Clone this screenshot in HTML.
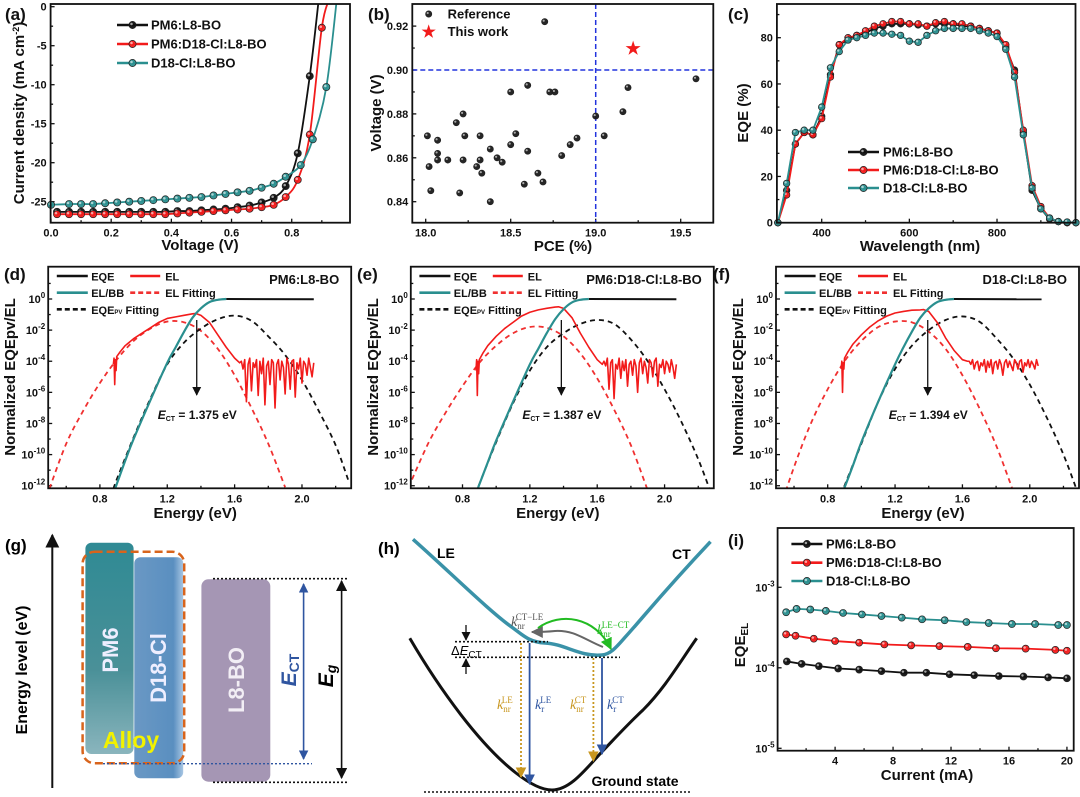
<!DOCTYPE html>
<html><head><meta charset="utf-8"><title>Figure</title>
<style>
html,body{margin:0;padding:0;background:#fff;}
svg{display:block;font-family:"Liberation Sans",Arial,sans-serif;font-weight:bold;}
</style></head>
<body>
<svg id="fig" width="1080" height="797" viewBox="0 0 1080 797" xmlns="http://www.w3.org/2000/svg">
<defs>
<linearGradient id="gPM6" x1="0" y1="0" x2="0" y2="1"><stop offset="0" stop-color="#2f8a94"/><stop offset="0.6" stop-color="#4a9098"/><stop offset="1" stop-color="#8ab5bd"/></linearGradient>
<linearGradient id="gD18" x1="0" y1="0" x2="1" y2="0"><stop offset="0" stop-color="#6a98c4"/><stop offset="0.8" stop-color="#5a8fc0"/><stop offset="1" stop-color="#a8c6e3"/></linearGradient>
<clipPath id="clipA"><rect x="50.6" y="4" width="299.4" height="218.7"/></clipPath>
<clipPath id="clipC"><rect x="776.9" y="4" width="298.6" height="218.7"/></clipPath>
<clipPath id="clipD"><rect x="48.2" y="266.7" width="303" height="221.6"/></clipPath>
<clipPath id="clipE"><rect x="410.8" y="266.7" width="303" height="221.6"/></clipPath>
<clipPath id="clipF"><rect x="776" y="266.7" width="303" height="221.6"/></clipPath>
<marker id="arrK" viewBox="0 0 10 10" refX="9" refY="5" markerWidth="7" markerHeight="7" orient="auto-start-reverse"><path d="M0,0 L10,5 L0,10 z" fill="#111"/></marker>
<marker id="arrB" viewBox="0 0 10 10" refX="9" refY="5" markerWidth="6" markerHeight="6" orient="auto-start-reverse"><path d="M0,0 L10,5 L0,10 z" fill="#2f55a0"/></marker>
<marker id="arrY" viewBox="0 0 10 10" refX="9" refY="5" markerWidth="6" markerHeight="6" orient="auto-start-reverse"><path d="M0,0 L10,5 L0,10 z" fill="#c8961e"/></marker>
<marker id="arrG" viewBox="0 0 10 10" refX="9" refY="5" markerWidth="6" markerHeight="6" orient="auto"><path d="M0,0 L10,5 L0,10 z" fill="#22bb22"/></marker>
<marker id="arrGr" viewBox="0 0 10 10" refX="9" refY="5" markerWidth="6" markerHeight="6" orient="auto-start-reverse"><path d="M0,0 L10,5 L0,10 z" fill="#666"/></marker>
</defs>

<g>
<text x="5" y="551" font-size="17">(g)</text>
<line x1="52.3" y1="788" x2="52.3" y2="535" stroke="#111" stroke-width="2" marker-end="url(#arrK)"/>
<text transform="translate(27,670) rotate(-90)" text-anchor="middle" font-size="16">Energy level (eV)</text>
<rect x="85.4" y="542.7" width="48.2" height="211.3" rx="6" fill="url(#gPM6)"/>
<rect x="134.3" y="557.3" width="48.9" height="221" rx="6" fill="url(#gD18)"/>
<rect x="82.6" y="551.7" width="101.6" height="211.6" rx="12" fill="none" stroke="#d8641c" stroke-width="2.5" stroke-dasharray="8,4"/>
<rect x="201.4" y="579.3" width="68.9" height="202.4" rx="7" fill="#a596b4"/>
<text transform="translate(118,650) rotate(-90)" text-anchor="middle" font-size="22" fill="#eef">PM6</text>
<text transform="translate(166,668) rotate(-90)" text-anchor="middle" font-size="22" fill="#eef">D18-Cl</text>
<text transform="translate(244,680) rotate(-90)" text-anchor="middle" font-size="22" fill="#f2eef5">L8-BO</text>
<text x="131" y="748" text-anchor="middle" font-size="23" fill="#f2f200">Alloy</text>
<line x1="213" y1="578.7" x2="347" y2="578.7" stroke="#111" stroke-width="1.6" stroke-dasharray="2,2"/>
<line x1="213" y1="782.3" x2="347" y2="782.3" stroke="#111" stroke-width="1.6" stroke-dasharray="2,2"/>
<line x1="103" y1="763.7" x2="312" y2="763.7" stroke="#2f55a0" stroke-width="1.4" stroke-dasharray="2,2"/>
<line x1="303.6" y1="584" x2="303.6" y2="759" stroke="#2f55a0" stroke-width="1.6" marker-start="url(#arrB)" marker-end="url(#arrB)"/>
<text transform="translate(296,670) rotate(-90)" text-anchor="middle" font-size="21" font-style="italic" fill="#2f55a0">E<tspan font-style="normal" font-size="14" dy="3">CT</tspan></text>
<line x1="341.6" y1="581" x2="341.6" y2="778" stroke="#111" stroke-width="1.6" marker-start="url(#arrK)" marker-end="url(#arrK)"/>
<text transform="translate(333,676) rotate(-90)" text-anchor="middle" font-size="21" font-style="italic">E<tspan font-size="14" dy="3">g</tspan></text>
</g>

<g>
<text x="378" y="554" font-size="17">(h)</text>
<path d="M413,539.3 C450,572 490,612 513,628 C525,637 530,642 545,643 C565,644 580,657 602,655 C612,654 618,645 628,634 C645,615 665,590 710.5,541.7" fill="none" stroke="#3a92a8" stroke-width="3.5"/>
<path d="M409.8,638.3 C440,690 480,745 516,773 C530,784 542,790 552,790 C570,790 585,770 602,751.7 C618,735 630,722 643,710 C665,688 680,662 696.7,638.3" fill="none" stroke="#111" stroke-width="3"/>
<line x1="424" y1="792" x2="690" y2="792" stroke="#111" stroke-width="1.6" stroke-dasharray="2,2"/>
<line x1="455" y1="641.7" x2="548" y2="641.7" stroke="#111" stroke-width="1.6" stroke-dasharray="2,2"/>
<line x1="455" y1="657.3" x2="620" y2="657.3" stroke="#111" stroke-width="1.6" stroke-dasharray="2,2"/>
<line x1="466" y1="625" x2="466" y2="640" stroke="#111" stroke-width="1.3" marker-end="url(#arrK)"/>
<line x1="466" y1="674" x2="466" y2="659" stroke="#111" stroke-width="1.3" marker-end="url(#arrK)"/>
<text x="451" y="655" font-size="13" font-weight="normal">Δ<tspan font-style="italic">E</tspan><tspan font-size="10" dy="3">CT</tspan></text>
<path d="M603,647 C585,640 575,630 555,631 C545,632 540,632 532,632" fill="none" stroke="#666" stroke-width="2" marker-end="url(#arrGr)"/>
<path d="M538,628 C560,612 595,616 611,649" fill="none" stroke="#22bb22" stroke-width="2" marker-end="url(#arrG)"/>
<text x="511" y="626" font-family="Liberation Serif,serif" font-weight="normal" font-size="14" fill="#555"><tspan font-style="italic">k</tspan><tspan font-size="9" dy="3">nr</tspan><tspan font-size="9" dy="-9" dx="-9">CT−LE</tspan></text>
<text x="597" y="634" font-family="Liberation Serif,serif" font-weight="normal" font-size="14" fill="#22bb22"><tspan font-style="italic">k</tspan><tspan font-size="9" dy="3">nr</tspan><tspan font-size="9" dy="-9" dx="-9">LE−CT</tspan></text>
<line x1="521" y1="643" x2="521" y2="777" stroke="#c8961e" stroke-width="1.8" stroke-dasharray="2,2" marker-end="url(#arrY)"/>
<line x1="529.6" y1="643" x2="529.6" y2="784" stroke="#2f55a0" stroke-width="1.8" marker-end="url(#arrB)"/>
<line x1="593.4" y1="658" x2="593.4" y2="761" stroke="#c8961e" stroke-width="1.8" stroke-dasharray="2,2" marker-end="url(#arrY)"/>
<line x1="602" y1="658" x2="602" y2="754" stroke="#2f55a0" stroke-width="1.8" marker-end="url(#arrB)"/>
<text x="497" y="709" font-family="Liberation Serif,serif" font-weight="normal" font-size="14" fill="#c8961e"><tspan font-style="italic">k</tspan><tspan font-size="9" dy="3">nr</tspan><tspan font-size="9" dy="-9" dx="-9">LE</tspan></text>
<text x="535" y="709" font-family="Liberation Serif,serif" font-weight="normal" font-size="14" fill="#2f55a0"><tspan font-style="italic">k</tspan><tspan font-size="9" dy="3">r</tspan><tspan font-size="9" dy="-9" dx="-4">LE</tspan></text>
<text x="570" y="709" font-family="Liberation Serif,serif" font-weight="normal" font-size="14" fill="#c8961e"><tspan font-style="italic">k</tspan><tspan font-size="9" dy="3">nr</tspan><tspan font-size="9" dy="-9" dx="-9">CT</tspan></text>
<text x="607" y="709" font-family="Liberation Serif,serif" font-weight="normal" font-size="14" fill="#2f55a0"><tspan font-style="italic">k</tspan><tspan font-size="9" dy="3">r</tspan><tspan font-size="9" dy="-9" dx="-4">CT</tspan></text>
<text x="437" y="558" font-size="14">LE</text>
<text x="672" y="559" font-size="14">CT</text>
<text x="635" y="786" text-anchor="middle" font-size="14">Ground state</text>
</g>

<script>
// Panel a: J-V
const aVolt = [0.02,0.06,0.10,0.14,0.18,0.22,0.26,0.30,0.34,0.38,0.42,0.46,0.50,0.54,0.58,0.62,0.66,0.70,0.74,0.78];
const aBlackV = aVolt.concat([0.82,0.86,0.89]);
const aBlackJ = [-26.3,-26.3,-26.3,-26.3,-26.3,-26.3,-26.3,-26.3,-26.3,-26.3,-26.2,-26.2,-26.1,-26.0,-25.9,-25.7,-25.5,-25.1,-24.5,-23.0,-18.8,-8.9,1];
const aRedV = aVolt.concat([0.82,0.86,0.90,0.925]);
const aRedJ = [-26.6,-26.6,-26.6,-26.6,-26.6,-26.6,-26.6,-26.6,-26.6,-26.6,-26.5,-26.4,-26.3,-26.2,-26.1,-26.0,-25.9,-25.7,-25.4,-24.4,-22.2,-16.4,-2.7,1];
const aTealV = [0.0].concat(aVolt.slice(1)).concat([0.83,0.87,0.915,0.95]);
const aTealJ = [-25.4,-25.3,-25.3,-25.3,-25.2,-25.1,-25.0,-24.9,-24.8,-24.7,-24.6,-24.5,-24.4,-24.2,-24.0,-23.8,-23.6,-23.2,-22.7,-21.8,-20.3,-17.0,-10.3,1];
const aXTicks = [0.0,0.2,0.4,0.6,0.8];
const aYTicks = [0,-5,-10,-15,-20,-25];

// Panel b
const bRefPCE = [18.01,18.07,18.18,18.22,18.23,18.32,18.38,18.02,18.03,18.07,18.07,18.13,18.20,18.22,18.30,18.32,18.33,18.38,18.42,18.45,18.50,18.60,18.53,18.50,18.58,18.60,18.66,18.69,18.70,18.73,18.76,18.80,18.85,18.89,19.00,19.05,19.16,19.19,19.59];
const bRefVoc = [0.870,0.868,0.876,0.880,0.870,0.870,0.864,0.856,0.845,0.862,0.859,0.859,0.844,0.859,0.856,0.859,0.853,0.840,0.860,0.858,0.890,0.893,0.871,0.866,0.848,0.863,0.853,0.849,0.922,0.890,0.890,0.861,0.866,0.869,0.879,0.870,0.881,0.892,0.896];
const bThisPCE = [19.22];
const bThisVoc = [0.910];
const bXTicks = [18.0,18.5,19.0,19.5];
const bYTicks = [0.84,0.86,0.88,0.90,0.92];

// Panel c
const cWave = [300,320,340,360,380,400,420,440,460,480,500,520,540,560,580,600,620,640,660,680,700,720,740,760,780,800,820,840,860,880,900,920,940,960,980];
const cBlack = [0,14,34,39,38,46,64,77,79,81,82,84,85,86,86,86,85.5,85,86,86,86,85,85,84,83,82,76,66,39,14,6,1.5,0.5,0,0];
const cRed = [0,12,34,39,38,45,63,77,80,81,83,85,86,87,87,86,86,85,86.5,87,86,86,85,84,83,82,77,65,40,16,7,2,0.5,0,0];
const cTeal = [0,17,39,40,40,50,67,74,79,80,81,82,82,81.5,81,78.5,78,81,83,84,84,84,84,83,82,80.5,75,63,38,15,6,2,0.5,0.3,0];
const cXTicks = [400,600,800];
const cYTicks = [0,20,40,60,80];

// Panels d-f (log10 values)
const fitElE = [0.50,0.60,0.70,0.80,0.90,1.00,1.10,1.20,1.30,1.40,1.50,1.60,1.70,1.80,1.90];
const dFitEl = [-12.2,-9.3,-7.2,-5.4,-3.9,-2.7,-1.9,-1.45,-1.5,-2.05,-3.2,-4.9,-7.0,-9.3,-12.1];
const eFitEl = [-11.6,-9.2,-7.3,-5.6,-4.1,-3.0,-2.2,-1.8,-1.85,-2.4,-3.5,-5.1,-7.1,-9.4,-12.3];
const fFitEl = [-14.0,-10.8,-8.0,-5.8,-4.0,-2.7,-1.8,-1.45,-1.5,-2.1,-3.2,-4.9,-7.0,-9.4,-12.3];
const pvE = [0.88,0.90,1.00,1.10,1.20,1.30,1.40,1.50,1.60,1.70,1.80,1.90,2.00,2.10,2.20,2.28];
const dPv = [-12.2,-11.6,-8.9,-6.4,-4.2,-2.8,-1.9,-1.3,-1.07,-1.4,-2.4,-3.6,-5.2,-7.2,-9.4,-11.8];
const ePv = [-12.6,-11.9,-9.2,-6.7,-4.6,-3.1,-2.2,-1.6,-1.35,-1.6,-2.6,-4.0,-5.8,-7.9,-10.3,-12.6];
const fPv = [-12.6,-12.0,-9.3,-6.6,-4.5,-3.0,-2.0,-1.35,-1.12,-1.45,-2.5,-3.8,-5.5,-7.6,-10.0,-12.3];
const bbE = [0.89,0.95,1.00,1.10,1.20,1.25,1.30,1.35,1.40,1.45,1.50,1.55];
const dBB = [-12.2,-10.4,-9.0,-6.5,-4.1,-3.1,-2.1,-1.2,-0.6,-0.2,-0.05,0];
const eBB = [-12.2,-10.5,-9.1,-6.6,-4.2,-3.2,-2.2,-1.3,-0.65,-0.22,-0.05,0];
const fBB = [-12.4,-10.7,-9.2,-6.6,-4.2,-3.1,-2.1,-1.2,-0.6,-0.2,-0.05,0];
const eqeE = [1.55,2.07];
const dEqe = [0,-0.02];
const elE = [0.880,0.884,0.888,0.892,0.896,0.900,0.920,0.950,1.00,1.05,1.10,1.15,1.20,1.25,1.30,1.35,1.37,1.40,1.45,1.50,1.55,1.60,1.63];
const dEl = [-4.2,-3.8,-5.5,-3.9,-4.6,-3.7,-3.4,-3.0,-2.55,-2.2,-1.85,-1.5,-1.25,-1.15,-1.05,-0.95,-0.93,-1.05,-1.5,-2.3,-3.1,-3.8,-4.1];
const eEl = [-4.6,-3.9,-6.2,-4.0,-4.8,-3.9,-3.5,-3.0,-2.4,-1.9,-1.5,-1.1,-0.85,-0.7,-0.6,-0.52,-0.5,-0.6,-1.2,-2.2,-3.1,-3.9,-4.2];
const fEl = [-4.5,-4.0,-6.0,-4.1,-4.5,-3.8,-3.4,-2.9,-2.3,-1.8,-1.4,-1.1,-0.9,-0.8,-0.72,-0.7,-0.68,-0.8,-1.5,-2.5,-3.3,-3.9,-4.0];
const noiseStart = 1.64, noiseStep = 0.01;
const dNoise = [-4.0,-4.5,-3.9,-6.6,-4.2,-3.8,-5.9,-4.1,-4.4,-3.9,-6.2,-4.0,-4.8,-3.8,-6.8,-4.3,-4.0,-5.5,-3.9,-4.1,-7.0,-4.2,-3.9,-5.2,-4.0,-4.4,-6.1,-3.8,-4.2,-5.8,-4.0,-3.9,-6.3,-4.1,-4.5,-3.8,-5.4,-4.0,-4.2,-4.9,-3.8,-4.4,-5.0,-4.1];
const eNoise = [-4.0,-4.3,-3.8,-5.8,-4.1,-3.9,-6.4,-4.2,-4.5,-3.8,-5.1,-4.0,-4.6,-3.9,-5.6,-4.2,-4.0,-4.9,-3.9,-4.3,-6.0,-4.1,-3.8,-4.8,-4.0,-4.4,-5.4,-3.9,-4.1,-5.0,-4.0,-3.8,-5.6,-4.2,-4.4,-3.9,-4.8,-4.0,-4.2,-4.7,-3.9,-4.4,-5.1,-4.2];
const fNoise = [-4.0,-4.2,-3.9,-4.5,-4.1,-4.0,-4.6,-4.1,-4.3,-3.9,-4.7,-4.0,-4.4,-3.9,-4.8,-4.1,-4.0,-4.5,-3.9,-4.2,-4.9,-4.1,-3.9,-4.4,-4.0,-4.3,-4.6,-3.9,-4.1,-4.5,-4.0,-3.9,-4.7,-4.1,-4.3,-3.9,-4.4,-4.0,-4.2,-4.5,-3.9,-4.3];
const energyXTicks = [0.8,1.2,1.6,2.0];
const energyYTicks = [0,-2,-4,-6,-8,-10,-12];
const ectValues = [1.375,1.387,1.394];

// Panel i
const iBlackX = [0.67,1.69,2.88,4.21,5.66,7.2,8.75,10.3,11.9,13.6,15.3,17.0,18.7,20.0];
const iBlackY = [1.2e-4,1.12e-4,1.05e-4,0.98e-4,0.95e-4,0.91e-4,0.87e-4,0.87e-4,0.83e-4,0.81e-4,0.79e-4,0.78e-4,0.76e-4,0.74e-4];
const iRedX = [0.62,1.27,2.53,4.0,5.66,7.4,9.25,11.2,13.15,15.1,17.15,19.2,20.0];
const iRedY = [2.6e-4,2.5e-4,2.3e-4,2.15e-4,2.05e-4,1.95e-4,1.9e-4,1.86e-4,1.82e-4,1.75e-4,1.73e-4,1.67e-4,1.63e-4];
const iTealX = [0.62,1.34,2.29,3.36,4.55,5.85,7.2,8.6,10.0,11.56,13.06,14.6,16.2,17.8,19.4,20.0];
const iTealY = [4.9e-4,5.4e-4,5.3e-4,5.1e-4,4.8e-4,4.6e-4,4.4e-4,4.2e-4,4.0e-4,3.9e-4,3.7e-4,3.6e-4,3.5e-4,3.5e-4,3.4e-4,3.4e-4];
const iXTicks = [4,8,12,16,20];
const iYTicks = [-3,-4,-5];

const NS = 'http://www.w3.org/2000/svg';
const svg = document.getElementById('fig');
const BLACK = '#111', RED = '#f21b1b', TEAL = '#2a8f8f';
function mk(tag, attrs, parent) {
  const e = document.createElementNS(NS, tag);
  for (const k in attrs) e.setAttribute(k, attrs[k]);
  (parent || svg).appendChild(e);
  return e;
}
// rich text: array of segments [text, attrs]
function setRich(t, segs) {
  segs.forEach(function (s) {
    const ts = document.createElementNS(NS, 'tspan');
    const at = s[1] || {};
    for (const k in at) ts.setAttribute(k, at[k]);
    ts.textContent = s[0];
    t.appendChild(ts);
  });
}
function group(name) {
  const g = mk('g', {});
  
  
  return g;
}
function label(parent, name, x, y, content, size, anchor, extra) {
  const t = mk('text', Object.assign({x: x, y: y, 'font-size': size || 11, 'text-anchor': anchor || 'start', fill: BLACK}, extra || {}), parent);
  if (typeof content === 'string') t.textContent = content; else setRich(t, content);
  
  
  return t;
}
function vlabel(parent, name, x, y, content, size) {
  const t = mk('text', {transform: 'translate(' + x + ',' + y + ') rotate(-90)', 'font-size': size || 15, 'text-anchor': 'middle', fill: BLACK}, parent);
  if (typeof content === 'string') t.textContent = content; else setRich(t, content);
  
  
  return t;
}
function pow10(L) { return [['10'], [String(L), {dy: '-5', 'font-size': '8'}]]; }
function frame(parent, name, x0, y0, x1, y1) {
  const r = mk('rect', {x: x0, y: y0, width: x1 - x0, height: y1 - y0, fill: 'none', stroke: BLACK, 'stroke-width': 1.8}, parent);
  
  
}
function tick(parent, name, x1, y1, x2, y2) {
  const l = mk('line', {x1: x1, y1: y1, x2: x2, y2: y2, stroke: BLACK, 'stroke-width': 1.3}, parent);
  
  
}
function linePath(parent, name, pts, color, width, dash, clip) {
  let d = '';
  pts.forEach((p, i) => { d += (i ? 'L' : 'M') + p[0].toFixed(2) + ',' + p[1].toFixed(2); });
  const a = {d: d, fill: 'none', stroke: color, 'stroke-width': width, 'stroke-linejoin': 'round'};
  if (dash) a['stroke-dasharray'] = dash;
  if (clip) a['clip-path'] = 'url(#' + clip + ')';
  const p = mk('path', a, parent);
  
  
  return p;
}
function smoothPath(parent, name, pts, color, width, dash, clip) {
  let d = 'M' + pts[0][0].toFixed(2) + ',' + pts[0][1].toFixed(2);
  for (let i = 0; i < pts.length - 1; i++) {
    const p0 = pts[i - 1] || pts[i], p1 = pts[i], p2 = pts[i + 1], p3 = pts[i + 2] || p2;
    const c1x = p1[0] + (p2[0] - p0[0]) / 6, c1y = p1[1] + (p2[1] - p0[1]) / 6;
    const c2x = p2[0] - (p3[0] - p1[0]) / 6, c2y = p2[1] - (p3[1] - p1[1]) / 6;
    d += 'C' + c1x.toFixed(2) + ',' + c1y.toFixed(2) + ' ' + c2x.toFixed(2) + ',' + c2y.toFixed(2) + ' ' + p2[0].toFixed(2) + ',' + p2[1].toFixed(2);
  }
  const a = {d: d, fill: 'none', stroke: color, 'stroke-width': width};
  if (dash) a['stroke-dasharray'] = dash;
  if (clip) a['clip-path'] = 'url(#' + clip + ')';
  const p = mk('path', a, parent);
  
  
  return p;
}
function marker(parent, name, x, y, color, r) {
  const c = mk('circle', {cx: x, cy: y, r: r || 3.6, fill: color, stroke: '#222', 'stroke-width': 0.7, 'fill-opacity': 0.95}, parent);
  
  
  const h = mk('circle', {cx: x - 1, cy: y - 1, r: (r || 3.6) * 0.35, fill: '#fff', 'fill-opacity': 0.6}, parent);
  
  
}
function legendLine(parent, name, x1, x2, y, color, dash, withMarker, text, tx, size) {
  const l = mk('line', {x1: x1, y1: y, x2: x2, y2: y, stroke: color, 'stroke-width': 2.6}, parent);
  if (dash) l.setAttribute('stroke-dasharray', dash);
  
  
  if (withMarker) marker(parent, name + '-marker', (x1 + x2) / 2, y, color, 3.6);
  label(parent, name + '-text', tx, y + 4.5, text, size || 13);
}

// Panel a
(function () {
  const g = group('panel-a');
  const xs = v => 51 + v * 300.9;
  const ys = j => 6.7 - j * 7.8;
  const X0 = 50.6, X1 = 350, Y0 = 4, Y1 = 222.7;
  label(g, 'panel-label-a', 5, 20, '(a)', 17);
  aXTicks.forEach(v => {
    tick(g, 'x-tick-a', xs(v), Y1, xs(v), Y1 - 4);
    label(g, 'x-tick-label-a', xs(v), Y1 + 14, v.toFixed(1), 11, 'middle');
  });
  [0.1,0.3,0.5,0.7,0.9].forEach(v => tick(g, 'x-minor-tick-a', xs(v), Y1, xs(v), Y1 - 2.5));
  aYTicks.forEach(j => {
    tick(g, 'y-tick-a', X0, ys(j), X0 + 4, ys(j));
    label(g, 'y-tick-label-a', X0 - 4, ys(j) + 4, String(j), 11, 'end');
  });
  [-2.5,-7.5,-12.5,-17.5,-22.5].forEach(j => tick(g, 'y-minor-tick-a', X0, ys(j), X0 + 2.5, ys(j)));
  const series = [['pm6-l8bo', aBlackV, aBlackJ, BLACK], ['pm6-d18cl-l8bo', aRedV, aRedJ, RED], ['d18cl-l8bo', aTealV, aTealJ, TEAL]];
  series.forEach(s => {
    const pts = s[1].map((v, i) => [xs(v), ys(s[2][i])]);
    smoothPath(g, 'jv-line-' + s[0], pts, s[3], 1.8, null, 'clipA');
    pts.forEach((p, i) => { if (s[2][i] < -0.5) marker(g, 'jv-point-' + s[0], p[0], p[1], s[3], 3.6); });
  });
  frame(g, 'plot-frame-a', X0, Y0, X1, Y1);
  legendLine(g, 'legend-a-pm6-l8bo', 117, 148, 25, BLACK, null, true, 'PM6:L8-BO', 151);
  legendLine(g, 'legend-a-pm6-d18cl-l8bo', 117, 148, 44, RED, null, true, 'PM6:D18-Cl:L8-BO', 151);
  legendLine(g, 'legend-a-d18cl-l8bo', 117, 148, 63, TEAL, null, true, 'D18-Cl:L8-BO', 151);
  vlabel(g, 'y-axis-title-a', 24, 113, [['Current density (mA cm'], ['-2', {dy: '-5', 'font-size': '9'}], [')', {dy: '5'}]], 15);
  label(g, 'x-axis-title-a', 200, 250, 'Voltage (V)', 15, 'middle');
})();

// Panel b
(function () {
  const g = group('panel-b');
  const xs = p => 425.7 + (p - 18) * 170;
  const ys = v => 70 - (v - 0.90) * 2195;
  const X0 = 412.3, X1 = 713.3, Y0 = 4, Y1 = 222.7;
  label(g, 'panel-label-b', 368, 20, '(b)', 17);
  bXTicks.forEach(v => {
    tick(g, 'x-tick-b', xs(v), Y1, xs(v), Y1 - 4);
    label(g, 'x-tick-label-b', xs(v), Y1 + 14, v.toFixed(1), 11, 'middle');
  });
  [18.25,18.75,19.25].forEach(v => tick(g, 'x-minor-tick-b', xs(v), Y1, xs(v), Y1 - 2.5));
  bYTicks.forEach(v => {
    tick(g, 'y-tick-b', X0, ys(v), X0 + 4, ys(v));
    label(g, 'y-tick-label-b', X0 - 4, ys(v) + 4, v.toFixed(2), 11, 'end');
  });
  [0.85,0.87,0.89,0.91].forEach(v => tick(g, 'y-minor-tick-b', X0, ys(v), X0 + 2.5, ys(v)));
  linePath(g, 'reference-line-voc', [[X0, ys(0.90)], [X1, ys(0.90)]], '#2233dd', 1.5, '5,3');
  linePath(g, 'reference-line-pce', [[xs(19.0), Y0], [xs(19.0), Y1]], '#2233dd', 1.5, '5,3');
  bRefPCE.forEach((p, i) => marker(g, 'reference-point', xs(p), ys(bRefVoc[i]), '#1a1a1a', 3.1));
  bThisPCE.forEach((p, i) => {
    label(g, 'this-work-star', xs(p), ys(bThisVoc[i]) + 6, '★', 17, 'middle', {fill: RED});
  });
  frame(g, 'plot-frame-b', X0, Y0, X1, Y1);
  marker(g, 'legend-b-reference-marker', 428.7, 14, '#1a1a1a', 3.1);
  label(g, 'legend-b-reference-text', 447.6, 18.5, 'Reference', 13);
  label(g, 'legend-b-thiswork-marker', 428.7, 37, '★', 16, 'middle', {fill: RED});
  label(g, 'legend-b-thiswork-text', 447.6, 36, 'This work', 13);
  vlabel(g, 'y-axis-title-b', 381, 113, 'Voltage (V)', 15);
  label(g, 'x-axis-title-b', 563, 251, 'PCE (%)', 15, 'middle');
})();

// Panel c
(function () {
  const g = group('panel-c');
  const xs = w => 821.7 + (w - 400) * 0.4383;
  const ys = q => 222.7 - q * 2.3125;
  const X0 = 776.9, X1 = 1075.5, Y0 = 4, Y1 = 222.7;
  label(g, 'panel-label-c', 728, 20, '(c)', 17);
  cXTicks.forEach(v => {
    tick(g, 'x-tick-c', xs(v), Y1, xs(v), Y1 - 4);
    label(g, 'x-tick-label-c', xs(v), Y1 + 14, String(v), 11, 'middle');
  });
  [300,500,700,900].forEach(v => tick(g, 'x-minor-tick-c', xs(v), Y1, xs(v), Y1 - 2.5));
  cYTicks.forEach(v => {
    tick(g, 'y-tick-c', X0, ys(v), X0 + 4, ys(v));
    label(g, 'y-tick-label-c', X0 - 4, ys(v) + 4, String(v), 11, 'end');
  });
  [10,30,50,70,90].forEach(v => tick(g, 'y-minor-tick-c', X0, ys(v), X0 + 2.5, ys(v)));
  const series = [['pm6-l8bo', cBlack, BLACK], ['pm6-d18cl-l8bo', cRed, RED], ['d18cl-l8bo', cTeal, TEAL]];
  series.forEach(s => {
    const pts = cWave.map((w, i) => [xs(w), ys(s[1][i])]);
    linePath(g, 'eqe-line-' + s[0], pts, s[2], 1.8, null, 'clipC');
    pts.forEach(p => marker(g, 'eqe-point-' + s[0], p[0], p[1], s[2], 3.3));
  });
  frame(g, 'plot-frame-c', X0, Y0, X1, Y1);
  legendLine(g, 'legend-c-pm6-l8bo', 848, 879, 152, BLACK, null, true, 'PM6:L8-BO', 883);
  legendLine(g, 'legend-c-pm6-d18cl-l8bo', 848, 879, 170, RED, null, true, 'PM6:D18-Cl:L8-BO', 883);
  legendLine(g, 'legend-c-d18cl-l8bo', 848, 879, 188, TEAL, null, true, 'D18-Cl:L8-BO', 883);
  vlabel(g, 'y-axis-title-c', 748, 113, 'EQE (%)', 15);
  label(g, 'x-axis-title-c', 920, 251, 'Wavelength (nm)', 15, 'middle');
})();

// Panels d, e, f
function energyPanel(key, ox, letter, lx, title, clip, fitEl, pv, bb, el, noise, ect) {
  const g = group('panel-' + key);
  const xs = E => ox + (E - 0.493) * 168.4;
  const ys = L => 299 - L * 15.56;
  const X0 = ox, X1 = ox + 303, Y0 = 266.7, Y1 = 488.3;
  label(g, 'panel-label-' + key, lx, 280, '(' + letter + ')', 17);
  energyXTicks.forEach(v => {
    tick(g, 'x-tick-' + key, xs(v), Y1, xs(v), Y1 - 4);
    label(g, 'x-tick-label-' + key, xs(v), Y1 + 14, v.toFixed(1), 11, 'middle');
  });
  [0.6,1.0,1.4,1.8,2.2].forEach(v => tick(g, 'x-minor-tick-' + key, xs(v), Y1, xs(v), Y1 - 2.5));
  energyYTicks.forEach(L => {
    tick(g, 'y-tick-' + key, X0, ys(L), X0 + 4, ys(L));
    label(g, 'y-tick-label-' + key, X0 - 3, ys(L) + 4, pow10(L), 11, 'end');
  });
  [1,-1,-3,-5,-7,-9,-11].forEach(L => tick(g, 'y-minor-tick-' + key, X0, ys(L), X0 + 2.5, ys(L)));
  smoothPath(g, 'el-fitting-' + key, fitElE.map((E, i) => [xs(E), ys(fitEl[i])]), '#f03030', 1.8, '5,4', clip);
  smoothPath(g, 'eqepv-fitting-' + key, pvE.map((E, i) => [xs(E), ys(pv[i])]), BLACK, 1.8, '5,4', clip);
  const elPts = elE.map((E, i) => [xs(E), ys(el[i])]);
  noise.forEach((L, i) => elPts.push([xs(noiseStart + i * noiseStep), ys(L)]));
  linePath(g, 'el-spectrum-' + key, elPts, RED, 1.6, null, clip);
  linePath(g, 'eqe-' + key, eqeE.map((E, i) => [xs(E), ys(dEqe[i])]), BLACK, 2, null, clip);
  smoothPath(g, 'el-bb-' + key, bbE.map((E, i) => [xs(E), ys(bb[i])]), TEAL, 2.2, null, clip);
  frame(g, 'plot-frame-' + key, X0, Y0, X1, Y1);
  const ax = xs(ect);
  const ar = mk('line', {x1: ax, y1: 320, x2: ax, y2: 395, stroke: BLACK, 'stroke-width': 1.3, 'marker-end': 'url(#arrK)'}, g);
  
  
  label(g, 'ect-annotation-' + key, ax - 39, 419, [['E', {'font-style': 'italic'}], ['CT', {'font-size': '7', dy: '2'}], [' = ' + ect.toFixed(3) + ' eV', {dy: '-2'}]], 12);
  legendLine(g, 'legend-' + key + '-eqe', ox + 8.6, ox + 39.6, 276, BLACK, null, false, 'EQE', ox + 43, 11);
  legendLine(g, 'legend-' + key + '-el', ox + 82, ox + 112, 276, RED, null, false, 'EL', ox + 117, 11);
  legendLine(g, 'legend-' + key + '-elbb', ox + 8.6, ox + 39.6, 292.7, TEAL, null, false, 'EL/BB', ox + 43, 11);
  legendLine(g, 'legend-' + key + '-elfit', ox + 82, ox + 112, 292.7, '#f03030', '5,3', false, 'EL Fitting', ox + 117, 11);
  legendLine(g, 'legend-' + key + '-pvfit', ox + 8.6, ox + 39.6, 309.3, BLACK, '5,3', false, [['EQE'], ['PV', {'font-size': '6'}], [' Fitting']], ox + 43, 11);
  label(g, 'sample-label-' + key, ox + 291, 284, title, 13, 'end');
  vlabel(g, 'y-axis-title-' + key, ox - 33, 377, 'Normalized EQEpv/EL', 15);
  label(g, 'x-axis-title-' + key, ox + 147, 518, 'Energy (eV)', 15, 'middle');
}
energyPanel('d', 48.2, 'd', 4, 'PM6:L8-BO', 'clipD', dFitEl, dPv, dBB, dEl, dNoise, ectValues[0]);
energyPanel('e', 410.8, 'e', 357, 'PM6:D18-Cl:L8-BO', 'clipE', eFitEl, ePv, eBB, eEl, eNoise, ectValues[1]);
energyPanel('f', 776, 'f', 713, 'D18-Cl:L8-BO', 'clipF', fFitEl, fPv, fBB, fEl, fNoise, ectValues[2]);

// Panel i
(function () {
  const g = group('panel-i');
  const xs = m => 835.1 + (m - 4) * 14.49;
  const ys = v => 587.3 - (Math.log10(v) + 3) * 80.5;
  const X0 = 777.6, X1 = 1073.7, Y0 = 528, Y1 = 750.7;
  label(g, 'panel-label-i', 728, 546, '(i)', 17);
  iXTicks.forEach(v => {
    tick(g, 'x-tick-i', xs(v), Y1, xs(v), Y1 - 4);
    label(g, 'x-tick-label-i', xs(v), Y1 + 14, String(v), 11, 'middle');
  });
  [2,6,10,14,18].forEach(v => tick(g, 'x-minor-tick-i', xs(v), Y1, xs(v), Y1 - 2.5));
  iYTicks.forEach(L => {
    tick(g, 'y-tick-i', X0, ys(Math.pow(10, L)), X0 + 4, ys(Math.pow(10, L)));
    label(g, 'y-tick-label-i', X0 - 3, ys(Math.pow(10, L)) + 4, pow10(L), 11, 'end');
  });
  const series = [['pm6-l8bo', iBlackX, iBlackY, BLACK], ['pm6-d18cl-l8bo', iRedX, iRedY, RED], ['d18cl-l8bo', iTealX, iTealY, TEAL]];
  series.forEach(s => {
    const pts = s[1].map((m, i) => [xs(m), ys(s[2][i])]);
    linePath(g, 'eqeel-line-' + s[0], pts, s[3], 1.8);
    pts.forEach(p => marker(g, 'eqeel-point-' + s[0], p[0], p[1], s[3], 3.5));
  });
  frame(g, 'plot-frame-i', X0, Y0, X1, Y1);
  legendLine(g, 'legend-i-pm6-l8bo', 791.4, 822.4, 544, BLACK, null, true, 'PM6:L8-BO', 826);
  legendLine(g, 'legend-i-pm6-d18cl-l8bo', 791.4, 822.4, 562.7, RED, null, true, 'PM6:D18-Cl:L8-BO', 826);
  legendLine(g, 'legend-i-d18cl-l8bo', 791.4, 822.4, 581, TEAL, null, true, 'D18-Cl:L8-BO', 826);
  vlabel(g, 'y-axis-title-i', 745, 645, [['EQE'], ['EL', {'font-size': '10', dy: '3'}]], 15);
  label(g, 'x-axis-title-i', 927, 780, 'Current (mA)', 15, 'middle');
})();
</script>
</body></html>
